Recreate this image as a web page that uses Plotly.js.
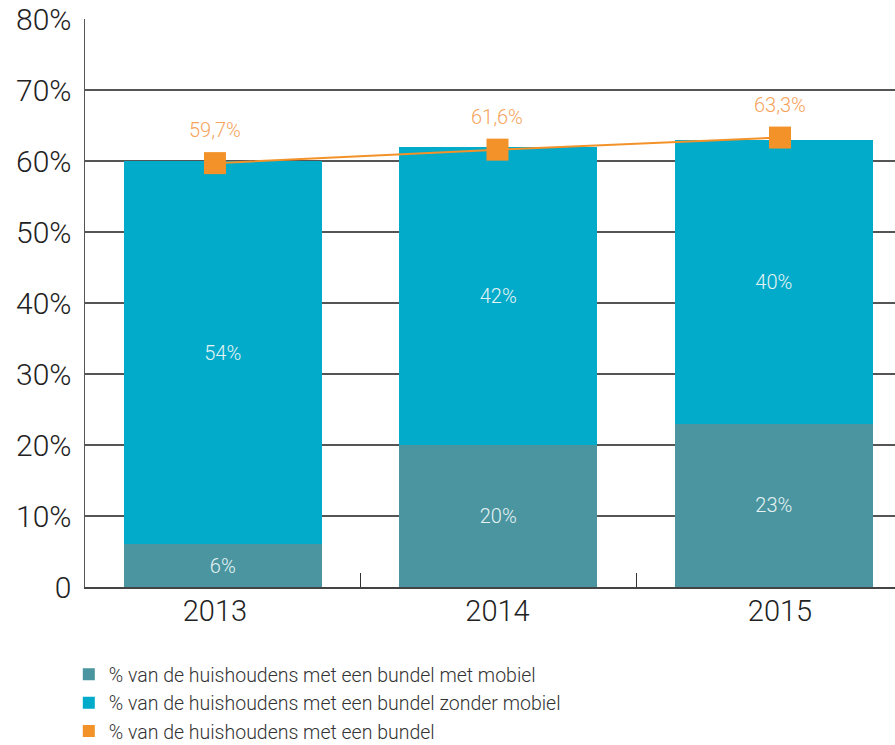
<!DOCTYPE html>
<html>
<head>
<meta charset="utf-8">
<script src="https://cdn.plot.ly/plotly-3.0.1.min.js"></script>
<style>html,body{margin:0;padding:0;background:#fff;overflow:hidden}</style>
</head>
<body>
<div id="chart" style="width:895px;height:745px"></div>
<script>
const years = ['2013', '2014', '2015'];
const metMobiel = [6, 20, 23];
const zonderMobiel = [54, 42, 40];
const bundelTotaal = [59.7, 61.6, 63.3];
const bundelLabels = ['59,7%', '61,6%', '63,3%'];
const yTickVals = [0, 10, 20, 30, 40, 50, 60, 70, 80];
const yTickText = ['0', '10%', '20%', '30%', '40%', '50%', '60%', '70%', '80%'];
const seriesNames = [
  '% van de huishoudens met een bundel met mobiel',
  '% van de huishoudens met een bundel zonder mobiel',
  '% van de huishoudens met een bundel'
];

const FONT = 'Roboto, "Open Sans", sans-serif';
const cTeal = '#4a959f';
const cCyan = '#02abca';
const cOrange = '#f39229';
const cOrangeText = '#f5a35a';
const labelColor = '#e6f3f5';

const traces = [
  {
    type: 'bar', x: years, y: metMobiel, name: seriesNames[0],
    marker: {color: cTeal}, width: 0.72,
    text: metMobiel.map(v => v + '%'), textposition: 'inside', insidetextanchor: 'middle',
    textangle: 0, constraintext: 'none',
    textfont: {family: FONT, size: 20, color: labelColor, weight: 300},
    hoverinfo: 'skip'
  },
  {
    type: 'bar', x: years, y: zonderMobiel, name: seriesNames[1],
    marker: {color: cCyan}, width: 0.72,
    text: zonderMobiel.map(v => v + '%'), textposition: 'inside', insidetextanchor: 'middle',
    textangle: 0, constraintext: 'none',
    textfont: {family: FONT, size: 20, color: labelColor, weight: 300},
    hoverinfo: 'skip'
  },
  {
    type: 'scatter', mode: 'lines', x: years, y: bundelTotaal, xaxis: 'x2', showlegend: false,
    line: {color: cOrange, width: 2}, hoverinfo: 'skip'
  },
  {
    type: 'scatter', mode: 'markers', x: years, y: bundelTotaal, xaxis: 'x2', name: seriesNames[2],
    marker: {color: cOrange, symbol: 'square', size: 22}, hoverinfo: 'skip'
  }
];

const annotations = years.map((yr, i) => ({
  xref: 'x2', yref: 'y', x: i, y: bundelTotaal[i], text: bundelLabels[i], showarrow: false,
  yshift: 33, font: {family: FONT, size: 20, color: cOrangeText}
}));

const layout = {
  width: 895, height: 745,
  margin: {l: 85, r: 0, t: 19, b: 158, autoexpand: false},
  paper_bgcolor: '#fff', plot_bgcolor: '#fff',
  font: {family: FONT, weight: 300, color: '#222'},
  barmode: 'stack',
  showlegend: true,
  legend: {
    orientation: 'v', x: -0.02, xanchor: 'left', y: -0.12, yanchor: 'top',
    font: {family: FONT, size: 19.5, color: '#333', weight: 300},
    itemsizing: 'constant', traceorder: 'normal', bgcolor: 'rgba(0,0,0,0)'
  },
  xaxis: {
    type: 'category', range: [-0.5, 2.44],
    tickson: 'boundaries', ticks: 'inside', ticklen: 14, tickwidth: 1, tickcolor: '#333',
    showticklabels: false,
    showline: true, linecolor: '#444', linewidth: 1.5,
    showgrid: false, zeroline: false
  },
  xaxis2: {
    type: 'category', overlaying: 'x', side: 'bottom', range: [-0.46, 2.407],
    ticks: '', showline: false, showgrid: false, zeroline: false,
    ticklabelstandoff: 4,
    tickfont: {family: FONT, size: 29, color: '#222', weight: 300}
  },
  yaxis: {
    range: [0, 80], tickvals: yTickVals, ticktext: yTickText,
    showgrid: true, gridcolor: '#555', gridwidth: 1.5,
    showline: true, linecolor: '#555', linewidth: 1.5,
    zeroline: false, ticks: '', ticklabelstandoff: 6,
    tickfont: {family: FONT, size: 30, color: '#222', weight: 300}
  },
  annotations: annotations
};

Plotly.newPlot('chart', traces, layout, {displayModeBar: false, staticPlot: true});
</script>
</body>
</html>
